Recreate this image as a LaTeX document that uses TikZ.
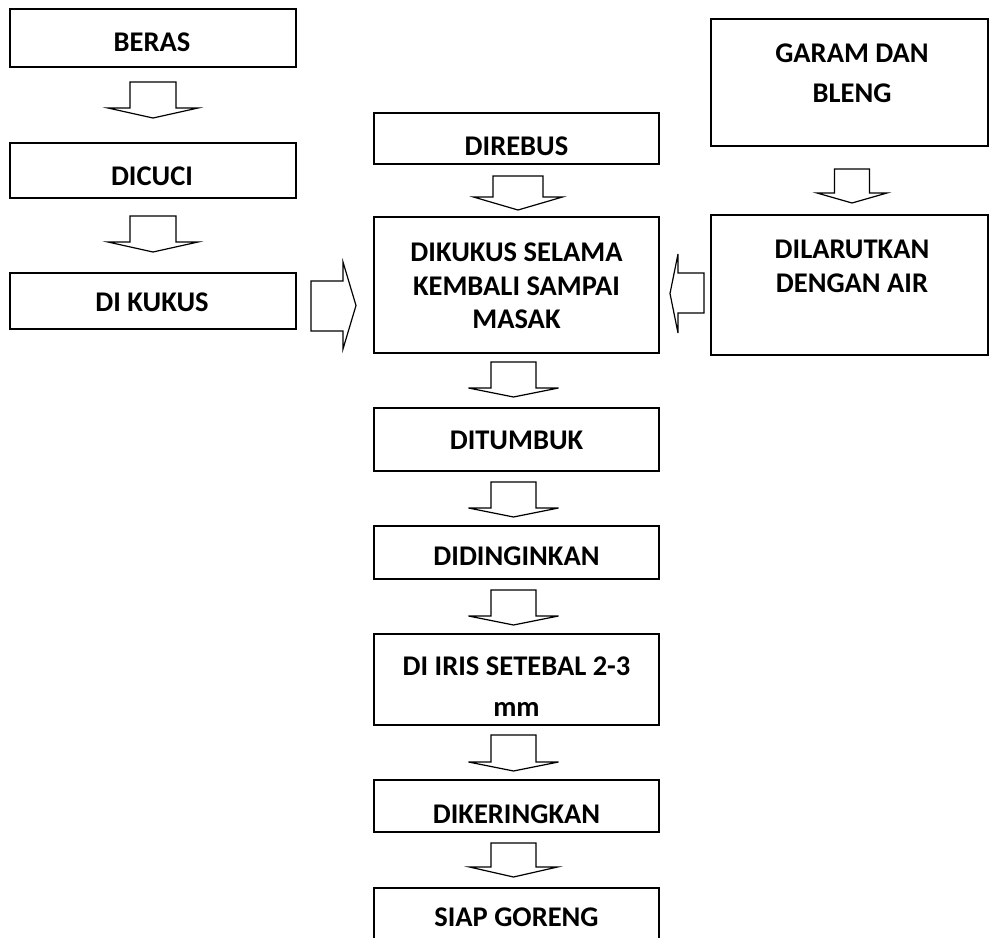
\documentclass[tikz,border=0pt]{standalone}
\usepackage{fontspec}
\setmainfont{Carlito}
\newcommand{\dnarrow}[6]{% x, top, shoulder, tip, half stem, half head
  \draw[blk] (#1-#5,#2) -- (#1+#5,#2) -- (#1+#5,#3) -- (#1+#6,#3) -- (#1,#4)
    -- (#1-#6,#3) -- (#1-#5,#3) -- cycle;}
\begin{document}
\begin{tikzpicture}[x=1pt,y=-1pt,
  box/.style={draw,line width=1.2pt,inner sep=0pt},
  lbl/.style={inner sep=0pt,anchor=north,align=center,
    font=\fontsize{28.5}{33.5}\selectfont\bfseries},
  blk/.style={draw,line width=1.2pt,line join=miter}]
\useasboundingbox (0,0) rectangle (989,938);
\clip (0,0) rectangle (989,938);
% left column
\node[box,minimum width=286pt,minimum height=58pt] (beras) at (153,38) {};
\node[box,minimum width=286pt,minimum height=55pt] (cuci) at (153,170.5) {};
\node[box,minimum width=286pt,minimum height=56pt] (kukus) at (153,301) {};
\node[lbl] (beras-t) at (152,33) {BERAS};
\node[lbl] (cuci-t) at (152,167) {DICUCI};
\node[lbl] (kukus-t) at (152,293) {DI KUKUS};
% middle column
\node[box,minimum width=285pt,minimum height=51pt] (rebus) at (516.5,138.5) {};
\node[box,minimum width=285pt,minimum height=136pt] (masak) at (516.5,285) {};
\node[box,minimum width=285pt,minimum height=63pt] (tumbuk) at (516.5,439.5) {};
\node[box,minimum width=285pt,minimum height=53pt] (dingin) at (516.5,552.5) {};
\node[box,minimum width=285pt,minimum height=91pt] (iris) at (516.5,679.5) {};
\node[box,minimum width=285pt,minimum height=52pt] (kering) at (516.5,806) {};
\node[box,minimum width=285pt,minimum height=70pt] (siap) at (516.5,923) {};
\node[lbl] (rebus-t) at (516.5,137) {DIREBUS};
\node[lbl] (masak-t) at (516.5,243) {DIKUKUS SELAMA\\KEMBALI SAMPAI\\MASAK};
\node[lbl] (tumbuk-t) at (516.5,431) {DITUMBUK};
\node[lbl] (dingin-t) at (516.5,547) {DIDINGINKAN};
\node[lbl] (iris-t) at (516.5,657) {DI IRIS SETEBAL 2-3\\[7.5pt]mm};
\node[lbl] (kering-t) at (516.5,805) {DIKERINGKAN};
\node[lbl] (siap-t) at (516.5,908) {SIAP GORENG};
% right column
\node[box,minimum width=277pt,minimum height=127pt] (garam) at (849.5,82.5) {};
\node[box,minimum width=277pt,minimum height=140pt] (larut) at (849.5,285) {};
\node[lbl] (garam-t) at (852,44) {GARAM DAN\\[6.5pt]BLENG};
\node[lbl] (larut-t) at (852,240) {DILARUTKAN\\DENGAN AIR};
% block arrows
\dnarrow{153}{82}{108}{118}{23}{45}
\dnarrow{153}{216}{242}{252}{23}{45}
\dnarrow{518}{176}{197}{210}{25}{44.5}
\dnarrow{513.5}{362}{388}{397}{22.5}{45}
\dnarrow{513.5}{482}{508}{517}{22.5}{45}
\dnarrow{513.5}{590}{616}{625}{22.5}{45}
\dnarrow{513.5}{735}{762}{771}{22.5}{45}
\dnarrow{513.5}{843}{867}{877}{22.5}{44}
\dnarrow{852}{169}{193}{203}{17.5}{35}
\draw[blk] (311,281) -- (343,281) -- (343,262) -- (356,305.5) -- (343,349)
  -- (343,331) -- (311,331) -- cycle;
\draw[blk] (704,273) -- (678,273) -- (678,254) -- (670,293.5) -- (678,333)
  -- (678,313) -- (704,313) -- cycle;
\end{tikzpicture}
\end{document}
